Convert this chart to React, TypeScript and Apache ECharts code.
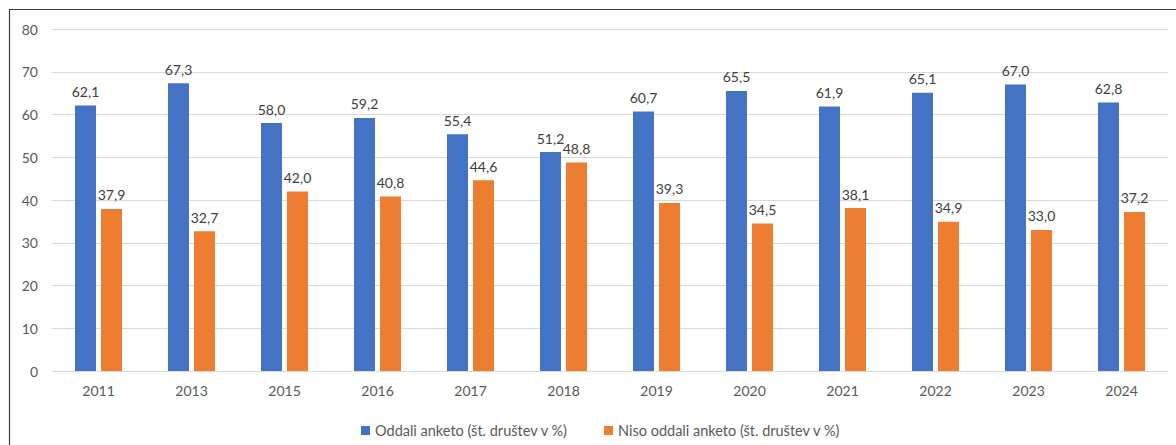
import React, { useEffect, useRef } from "react";
import * as echarts from "echarts";

const categories = ["2011", "2013", "2015", "2016", "2017", "2018", "2019", "2020", "2021", "2022", "2023", "2024"];
const oddali = [62.1, 67.3, 58.0, 59.2, 55.4, 51.2, 60.7, 65.5, 61.9, 65.1, 67.0, 62.8];
const nisoOddali = [37.9, 32.7, 42.0, 40.8, 44.6, 48.8, 39.3, 34.5, 38.1, 34.9, 33.0, 37.2];
const seriesNames = ["Oddali anketo (št. društev v %)", "Niso oddali anketo (št. društev v %)"];

const FONT = "Lato, 'Open Sans', sans-serif";

export default function App() {
  const ref = useRef<HTMLDivElement>(null);
  useEffect(() => {
    if (!ref.current) return;
    const chart = echarts.init(ref.current, undefined, { renderer: "svg" });
    const labelFmt = (p: any) => Number(p.value).toFixed(1).replace(".", ",");
    chart.setOption({
      animation: false,
      backgroundColor: "#ffffff",
      textStyle: { fontFamily: FONT },
      grid: { left: 52, right: 8, top: 29, bottom: 74, containLabel: false },
      legend: {
        top: 418,
        left: 356,
        itemWidth: 9,
        itemHeight: 9,
        itemGap: 36,
        icon: "rect",
        textStyle: { fontSize: 14.5, color: "#595959", fontFamily: FONT },
        data: seriesNames,
      },
      xAxis: {
        type: "category",
        data: categories,
        axisLine: { lineStyle: { color: "#D9D9D9", width: 1 } },
        axisTick: { show: false },
        axisLabel: { color: "#595959", fontSize: 14, margin: 12, fontFamily: FONT },
      },
      yAxis: {
        type: "value",
        min: 0,
        max: 80,
        interval: 10,
        axisLine: { show: false },
        axisTick: { show: false },
        splitLine: { lineStyle: { color: "#D9D9D9", width: 1 } },
        axisLabel: { color: "#595959", fontSize: 14, margin: 14, fontFamily: FONT },
      },
      graphic: [
        {
          type: "rect",
          shape: { x: 9.5, y: 9.5, width: 1400, height: 800 },
          style: { fill: "none", stroke: "#3f3f3f", lineWidth: 1.2 },
          silent: true,
          z: 100,
        },
      ],
      series: [
        {
          name: seriesNames[0],
          type: "bar",
          data: oddali,
          barWidth: 21,
          barGap: "24%",
          itemStyle: { color: "#4472C4" },
          label: {
            show: true,
            position: "top",
            distance: 7,
            color: "#404040",
            fontSize: 14,
            fontFamily: FONT,
            formatter: labelFmt,
          },
        },
        {
          name: seriesNames[1],
          type: "bar",
          data: nisoOddali,
          barWidth: 21,
          itemStyle: { color: "#ED7D31" },
          label: {
            show: true,
            position: "top",
            distance: 7,
            color: "#404040",
            fontSize: 14,
            fontFamily: FONT,
            formatter: labelFmt,
          },
        },
      ],
    });
    return () => chart.dispose();
  }, []);
  return (
    <div
      ref={ref}
      style={{ position: "absolute", left: 0, top: 0, width: 1176, height: 445 }}
    />
  );
}
